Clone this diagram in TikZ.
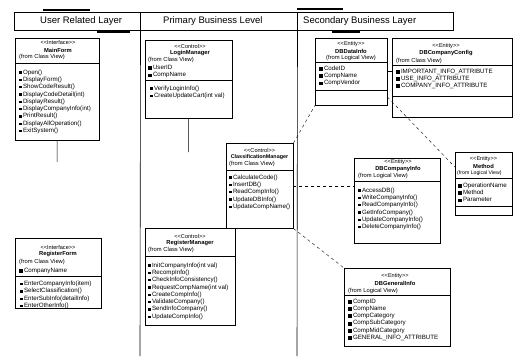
\documentclass[tikz,border=0pt]{standalone}
\usepackage{fontspec}
\setmainfont{Liberation Sans}
\usetikzlibrary{calc}
\newcommand\xmic{\rule[0.4pt]{2.6pt}{2.3pt}\hspace{1.2pt}}
\newcommand\xaic{\rule[-0.6pt]{3.8pt}{3.8pt}\hspace{1pt}}
\begin{document}
\begin{tikzpicture}[x=1pt,y=-1pt,
  lane/.style={draw, line width=0.6pt},
  hbox/.style={draw, line width=0.5pt, anchor=north west, inner sep=0, minimum height=18pt},
  box/.style={draw, line width=0.45pt, anchor=north west, inner sep=0},
  hdr/.style={font=\fontsize{9.5}{10}\selectfont, anchor=west, inner sep=0},
  st/.style={font=\fontsize{5.6}{6}\selectfont, inner sep=0},
  nm/.style={font=\fontsize{5.8}{6}\selectfont\bfseries, inner sep=0},
  fr/.style={font=\fontsize{5.8}{6}\selectfont, anchor=west, inner sep=0},
  lst/.style={font=\fontsize{6.2}{7.3}\selectfont, anchor=north west, align=left, inner sep=0},
  sep/.style={line width=0.4pt},
  bar/.style={line width=1.2pt},
  dep/.style={dashed, line width=0.4pt},
  assoc/.style={line width=0.5pt},
]
\useasboundingbox (0,0) rectangle (513,356);
\fill[white] (0,0) rectangle (513,356);

% ---- header of the swimlanes
\node[hbox, minimum width=126pt] (hA) at (14,12) {};
\node[hbox, minimum width=157pt] (hB) at (140,12) {};
\node[hbox, minimum width=156pt] (hC) at (297,12) {};
\node[hdr] (tA) at (40,21) {User Related Layer};
\node[hdr] (tB) at (163,21) {Primary Business Level};
\node[hdr] (tC) at (303,21) {Secondary Business Layer};
\draw[bar] (43,10) -- (90,10);
\draw[bar] (97,32) -- (130,32);
\draw[bar] (297,9) -- (343,9);
\draw[bar] (332,32) -- (360,32);
\draw[lane] (hA.south east) -- (140,356);
\draw[lane] (hB.south east) -- (297,356);

% ---- A : MainForm
\node[box, minimum width=84pt, minimum height=102pt] (A) at (15,38) {};
\node[st] (As) at (58,43) {<{}<Interface>{}>};
\node[nm] (An) at (58,50) {MainForm};
\node[fr] (Af) at (19,57) {(from Class View)};
\draw[sep] (15,63) -- (99,63);
\node[lst] (Am) at (19,69.5) {\xmic Open()\\ \xmic DisplayForm()\\ \xmic ShowCodeResult()\\ \xmic DisplayCodeDetail(int)\\ \xmic DisplayResult()\\ \xmic DisplayCompanyInfo(int)\\ \xmic PrintResult()\\ \xmic DisplayAllOperation()\\ \xmic ExitSystem()};
\coordinate (Aend) at (57,162);
\draw[assoc] (A.south) -- (Aend);

% ---- B : RegisterForm
\node[box, minimum width=86pt, minimum height=70pt] (B) at (15,238) {};
\node[st] (Bs) at (58,247) {<{}<Interface>{}>};
\node[nm] (Bn) at (58,254) {RegisterForm};
\node[fr] (Bf) at (19,262) {(from Class View)};
\node[lst] (Ba) at (19,267.5) {\xaic CompanyName};
\draw[sep] (15,276) -- (101,276);
\node[lst] (Bm) at (20,281) {\xmic EnterCompanyInfo(item)\\ \xmic SelectClassification()\\ \xmic EnterSubInfo(detailInfo)\\ \xmic EnterOtherInfo()};

% ---- C : LoginManager
\node[box, minimum width=87pt, minimum height=78pt] (C) at (145,40) {};
\node[st] (Cs) at (190,46) {<{}<Control>{}>};
\node[nm] (Cn) at (190,53) {LoginManager};
\node[fr] (Cf) at (148,60) {(from Class View)};
\node[lst] (Ca) at (148,65) {\xaic UserID\\ \xaic CompName};
\draw[sep] (145,80) -- (232,80);
\node[lst] (Cm) at (150,85.5) {\xmic VerifyLoginInfo()\\ \xmic CreateUpdateCart(int val)};
\coordinate (Cend) at (188.5,152);
\draw[assoc] (C.south) -- (Cend);

% ---- D : ClassificationManager
\node[box, minimum width=67pt, minimum height=85pt] (D) at (226,143) {};
\node[st] (Ds) at (259.5,150) {<{}<Control>{}>};
\node[nm, font=\fontsize{5.4}{6}\selectfont\bfseries] (Dn) at (259.5,157) {ClassificationManager};
\node[fr] (Df) at (229,164) {(from Class View)};
\draw[sep] (226,170) -- (293,170);
\node[lst] (Dm) at (229,174.5) {\xmic CalculateCode()\\ \xmic InsertDB()\\ \xmic ReadCompInfo()\\ \xmic UpdateDBInfo()\\ \xmic UpdateCompName()};

% ---- E : RegisterManager
\node[box, minimum width=90pt, minimum height=97pt] (E) at (145,228) {};
\node[st] (Es) at (190,236) {<{}<Control>{}>};
\node[nm] (En) at (190,243) {RegisterManager};
\node[fr] (Ef) at (148,250) {(from Class View)};
\draw[sep] (145,256) -- (235,256);
\node[lst] (Em) at (148,262.5) {\xmic InitCompanyInfo(int val)\\ \xmic RecompInfo()\\ \xmic CheckInfoConsistency()\\ \xmic RequestCompName(int val)\\ \xmic CreateCompInfo()\\ \xmic ValidateCompany()\\ \xmic SendInfoCompany()\\ \xmic UpdateCompInfo()};

% ---- F : DBDataInfo
\node[box, minimum width=72pt, minimum height=67pt] (F) at (315,38) {};
\node[st] (Fs) at (351,44) {<{}<Entity>{}>};
\node[nm] (Fn) at (351,51) {DBDataInfo};
\node[st, font=\fontsize{5.8}{6}\selectfont] (Ff) at (351,58) {(from Logical View)};
\draw[sep] (315,62) -- (387,62);
\node[lst] (Fa) at (319,65.5) {\xaic CodeID\\ \xaic CompName\\ \xaic CompVendor};
\draw[sep] (315,90) -- (387,90);

% ---- G : DBCompanyConfig
\node[box, minimum width=120pt, minimum height=79pt] (G) at (392,38) {};
\node[st] (Gs) at (446,46) {<{}<Entity>{}>};
\node[nm] (Gn) at (446,53) {DBCompanyConfig};
\node[fr] (Gf) at (396,61) {(from Class View)};
\draw[sep] (392,65) -- (512,65);
\node[lst] (Ga) at (396,68.5) {\xaic IMPORTANT\_INFO\_ATTRIBUTE\\ \xaic USE\_INFO\_ATTRIBUTE\\ \xaic COMPANY\_INFO\_ATTRIBUTE};
\draw[sep] (392,96) -- (512,96);

% ---- H : DBCompanyInfo
\node[box, minimum width=86pt, minimum height=85pt] (H) at (354,158) {};
\node[st] (Hs) at (398,162) {<{}<Entity>{}>};
\node[nm] (Hn) at (398,169) {DBCompanyInfo};
\node[fr] (Hf) at (358,176) {(from Logical View)};
\draw[sep] (354,181) -- (440,181);
\node[lst] (Hm) at (358,187.5) {\xmic AccessDB()\\ \xmic WriteCompanyInfo()\\ \xmic ReadCompanyInfo()\\ \xmic GetInfoCompany()\\ \xmic UpdateCompanyInfo()\\ \xmic DeleteCompanyInfo()};

% ---- I : Method
\node[box, minimum width=57pt, minimum height=63pt] (I) at (455,152) {};
\node[st] (Is) at (483.5,159) {<{}<Entity>{}>};
\node[nm] (In) at (483.5,166) {Method};
\node[fr, font=\fontsize{5.2}{6}\selectfont] (If) at (457,173) {(from Logical View)};
\draw[sep] (455,178) -- (512,178);
\node[lst] (Ia) at (458,182.5) {\xaic OperationName\\ \xaic Method\\ \xaic Parameter};
\draw[sep] (455,206) -- (512,206);

% ---- J : DBGeneralInfo
\node[box, minimum width=106pt, minimum height=78pt] (J) at (344,268) {};
\node[st] (Js) at (395,276) {<{}<Entity>{}>};
\node[nm] (Jn) at (395,283) {DBGeneralInfo};
\node[fr] (Jf) at (348,291) {(from Logical View)};
\draw[sep] (344,295) -- (450,295);
\node[lst] (Ja) at (348,298.5) {\xaic CompID\\ \xaic CompName\\ \xaic CompCategory\\ \xaic CompSubCategory\\ \xaic CompMidCategory\\ \xaic GENERAL\_INFO\_ATTRIBUTE};

% ---- relations
\draw[assoc] (F.east) -- (G.west |- F.east);
\draw[dep] (D.north east) -- (F.south west);
\draw[dep] (D.east) -- (D.east -| H.west);
\draw[dep] (D.south east) -- (J.north west);
\draw[dep] (F.-35) -- (I.150);
\end{tikzpicture}
\end{document}
